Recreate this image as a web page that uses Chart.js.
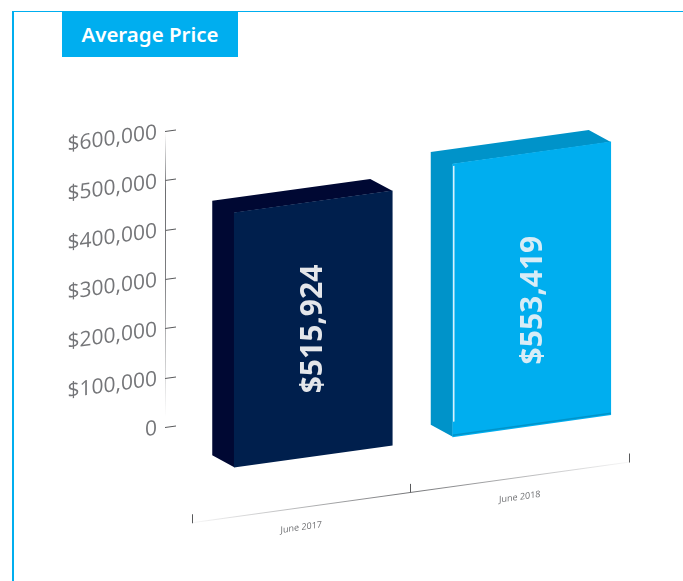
<!DOCTYPE html>
<html>
<head>
<meta charset="utf-8">
<style>
    html, body { margin: 0; padding: 0; background: #fff; overflow: hidden; }
    #page { position: relative; width: 683px; height: 581px; }
    #frame-top { position: absolute; left: 12px; top: 11px; width: 671px; height: 1px; background: #00aeef; }
    #frame-left { position: absolute; left: 12px; top: 11px; width: 1.5px; height: 570px; background: #00aeef; }
    #title {
        position: absolute; left: 62px; top: 11px; width: 176px; height: 46px;
        background: #00aeef; color: #fff; text-align: center;
        font: 600 20.5px/46px "Noto Sans", sans-serif;
    }
    canvas { position: absolute; left: 0; top: 0; }
</style>
</head>
<body>
<div id="page">
    <canvas id="chart" width="683" height="581"></canvas>
    <div id="frame-top"></div>
    <div id="frame-left"></div>
    <div id="title">Average Price</div>
</div>
<script src="https://cdn.jsdelivr.net/npm/chart.js@4"></script>
<script>
const CATEGORIES = ["June 2017", "June 2018"];
const PRICES = [515924, 553419];
const Y_TICKS = [0, 100000, 200000, 300000, 400000, 500000, 600000];

const FRONT_COLORS = ["#001f4d", "#00aeef"];
const SIDE_COLORS = ["#000833", "#0093c9"];
const LABEL_COLORS = ["#e4e6ea", "#d8ecf6"];
const LABEL_NUDGE = [[0, 0], [2, 11]];
const TEXT_COLOR = "#747578";

const SLOPE = 0.139; // the whole drawing leans up to the right
const DEPTH_X = -22;
const DEPTH_Y = -15;
const FRONT_SHIFT = 12;

const ctx = document.getElementById("chart").getContext("2d");

const xLine = ctx.createLinearGradient(192, 0, 629, 0);
xLine.addColorStop(0, "rgba(109,110,113,0.05)");
xLine.addColorStop(0.5, "rgba(109,110,113,0.95)");
xLine.addColorStop(1, "rgba(109,110,113,0.05)");

const yLine = ctx.createLinearGradient(0, 155, 0, 440);
yLine.addColorStop(0, "rgba(109,110,113,0)");
yLine.addColorStop(0.2, "rgba(109,110,113,1)");
yLine.addColorStop(0.5, "rgba(109,110,113,0.9)");
yLine.addColorStop(1, "rgba(109,110,113,0)");

const formatPrice = (value) => (value === 0 ? "0" : `$${value.toLocaleString("en-US")}`);

const skewPlugin = {
    id: "skew",
    afterLayout(chart) {
        // y axis sits a little left of the plot, the x axis starts at the plot edge
        const axis = chart.scales.yAxis;
        axis.left -= 27;
        axis.right -= 27;
    },
    beforeDraw(chart) {
        chart.ctx.save();
        chart.ctx.transform(1, -SLOPE, 0, 1, 0, 0);
    },
    afterDraw(chart) {
        chart.ctx.restore();
    },
};

const boxPlugin = {
    id: "box",
    beforeDatasetDraw(chart, args) {
        const c = chart.ctx;
        args.meta.data.forEach((bar, i) => {
            const left = bar.x - bar.width / 2 + FRONT_SHIFT;
            const right = left + bar.width;
            c.fillStyle = SIDE_COLORS[i];
            c.beginPath();
            c.moveTo(left, bar.y);
            c.lineTo(left + DEPTH_X, bar.y + DEPTH_Y);
            c.lineTo(right + DEPTH_X, bar.y + DEPTH_Y);
            c.lineTo(right, bar.y);
            c.lineTo(left, bar.y);
            c.lineTo(left, bar.base);
            c.lineTo(left + DEPTH_X, bar.base + DEPTH_Y);
            c.lineTo(left + DEPTH_X, bar.y + DEPTH_Y);
            c.closePath();
            c.fill();
        });
        c.save();
        c.translate(FRONT_SHIFT, 0);
    },
    afterDatasetDraw(chart, args) {
        const c = chart.ctx;
        args.meta.data.forEach((bar, i) => {
            c.save();
            if (i === 1) {
                // highlight and lip on the light box
                const left = bar.x - bar.width / 2;
                c.strokeStyle = "#d8f2fc";
                c.lineWidth = 1.5;
                c.beginPath();
                c.moveTo(left + 1, bar.y + 2);
                c.lineTo(left + 1, bar.base - 15);
                c.stroke();
                c.strokeStyle = SIDE_COLORS[1];
                c.lineWidth = 1.5;
                c.beginPath();
                c.moveTo(left, bar.base - 1.5);
                c.lineTo(left + bar.width, bar.base - 1.5);
                c.stroke();
            }
            c.translate(bar.x + LABEL_NUDGE[i][0], (bar.y + bar.base) / 2 + LABEL_NUDGE[i][1]);
            c.transform(1, SLOPE, 0, 1, 0, 0);
            c.rotate(-Math.PI / 2);
            c.fillStyle = LABEL_COLORS[i];
            c.font = "700 30px 'Noto Sans', sans-serif";
            c.textAlign = "center";
            c.textBaseline = "middle";
            c.fillText(formatPrice(PRICES[i]), 0, 0);
            c.restore();
        });
        c.restore();
    },
};

new Chart(ctx, {
    type: "bar",
    data: {
        labels: CATEGORIES,
        datasets: [{
            data: PRICES,
            backgroundColor: FRONT_COLORS,
            barThickness: 158,
            clip: false,
            yAxisID: "y",
        }],
    },
    options: {
        responsive: false,
        animation: false,
        layout: { padding: { top: 154.6, right: 54, left: 0, bottom: 0 } },
        plugins: { legend: { display: false }, tooltip: { enabled: false }, title: { display: false } },
        scales: {
            x: {
                offset: true,
                afterFit: (scale) => { scale.height = 32; },
                border: { color: xLine, width: 1 },
                grid: { drawOnChartArea: false, tickLength: -8, tickColor: "#58595b", tickWidth: 1, offset: true },
                ticks: {
                    color: "#6d6e71",
                    padding: 23,
                    maxRotation: 0,
                    font: { family: "'Open Sans', sans-serif", size: 9 },
                },
            },
            y: {
                display: false,
                min: -100000,
                max: 700000,
            },
            yAxis: {
                axis: "y",
                position: "left",
                min: -200000,
                max: 600000,
                afterFit: (scale) => { scale.width = 192; },
                afterBuildTicks: (scale) => {
                    scale.ticks = Y_TICKS.map((value) => ({ value }));
                },
                border: { color: yLine, width: 1 },
                grid: { drawOnChartArea: false, tickLength: -11, tickColor: "#58595b", tickWidth: 1 },
                ticks: {
                    color: TEXT_COLOR,
                    padding: 19,
                    autoSkip: false,
                    callback: (value) => formatPrice(value),
                    font: { family: "'Open Sans', sans-serif", size: 21, weight: "400" },
                },
            },
        },
    },
    plugins: [skewPlugin, boxPlugin],
});
</script>
</body>
</html>
